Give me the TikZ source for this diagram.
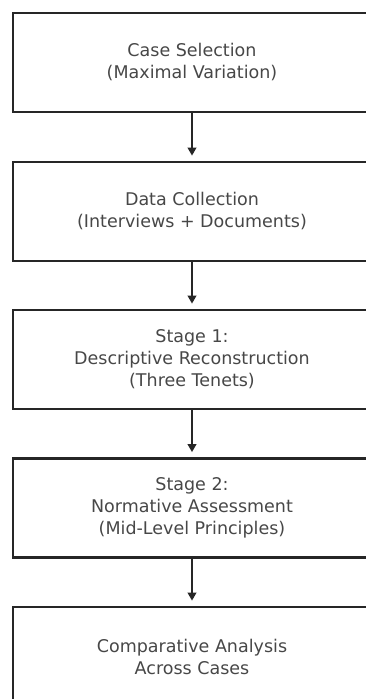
\documentclass[tikz,border=0pt]{standalone}
\usepackage{fontspec}
\setmainfont{DejaVu Sans}
\usetikzlibrary{arrows.meta}
\begin{document}
\begin{tikzpicture}[x=1pt,y=1pt,
  stepbox/.style={draw=black!85,line width=2.7pt,minimum width=358pt,minimum height=99pt,
    align=center,inner sep=0pt,text=black!72,font=\fontsize{17.5}{22}\selectfont},
  flow/.style={draw=black!85,line width=2pt,-{Triangle[length=8pt,width=8.5pt]},shorten >=5pt}]
\useasboundingbox (0,0) rectangle (366,-699);
\clip (0,0) rectangle (366,-699);
\node[stepbox] (s1) at (192,-62.5) {Case Selection\\(Maximal Variation)};
\node[stepbox] (s2) at (192,-211.5) {Data Collection\\(Interviews + Documents)};
\node[stepbox] (s3) at (192,-359.5) {Stage 1:\\Descriptive Reconstruction\\(Three Tenets)};
\node[stepbox] (s4) at (192,-508) {Stage 2:\\Normative Assessment\\(Mid-Level Principles)};
\node[stepbox] (s5) at (192,-656.5) {Comparative Analysis\\Across Cases};
\draw[flow] (s1.south) -- (s2.north);
\draw[flow] (s2.south) -- (s3.north);
\draw[flow] (s3.south) -- (s4.north);
\draw[flow] (s4.south) -- (s5.north);
\end{tikzpicture}
\end{document}
